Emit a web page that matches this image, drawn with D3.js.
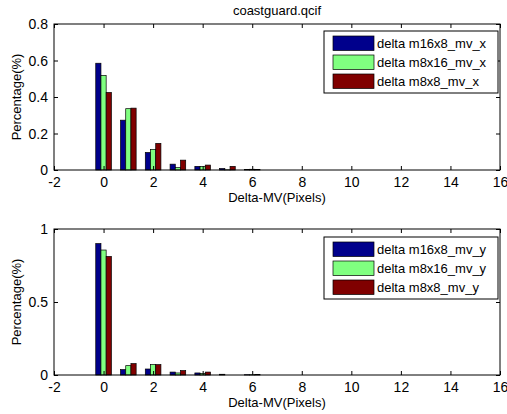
<!DOCTYPE html>
<html><head><meta charset="utf-8">
<script src="https://cdn.jsdelivr.net/npm/d3@7/dist/d3.min.js"></script>
<style>body{margin:0;background:#fff}svg{display:block;font-family:"Liberation Sans",Arial,sans-serif}</style>
</head><body><div id="c"></div>
<script>
const categories = [0, 1, 2, 3, 4, 5, 6];
const seriesNamesX = ["delta m16x8_mv_x", "delta m8x16_mv_x", "delta m8x8_mv_x"];
const seriesNamesY = ["delta m16x8_mv_y", "delta m8x16_mv_y", "delta m8x8_mv_y"];
const xM16x8 = [0.585, 0.273, 0.096, 0.032, 0.020, 0.008, 0.003];
const xM8x16 = [0.518, 0.336, 0.112, 0.013, 0.020, 0.001, 0.004];
const xM8x8  = [0.425, 0.339, 0.146, 0.054, 0.027, 0.020, 0.003];
const yM16x8 = [0.900, 0.037, 0.041, 0.020, 0.014, 0.005, 0.002];
const yM8x16 = [0.856, 0.064, 0.071, 0.014, 0.011, 0.000, 0.002];
const yM8x8  = [0.812, 0.078, 0.071, 0.030, 0.020, 0.000, 0.003];
const xTicks = [-2, 0, 2, 4, 6, 8, 10, 12, 14, 16];
const xTickLabels = ["-2", "0", "2", "4", "6", "8", "10", "12", "14", "16"];
const yTicksTop = [0, 0.2, 0.4, 0.6, 0.8];
const yTickLabelsTop = ["0", "0.2", "0.4", "0.6", "0.8"];
const yTicksBottom = [0, 0.5, 1];
const yTickLabelsBottom = ["0", "0.5", "1"];
const colors = ["#00008c", "#80ff80", "#800000"];
const title = "coastguard.qcif";
const xLabel = "Delta-MV(Pixels)";
const yLabel = "Percentage(%)";

const W = 507, H = 414;
const FONT = '"Liberation Sans",Arial,sans-serif';
const svg = d3.select("#c").append("svg").attr("width", W).attr("height", H);
svg.append("rect").attr("width", W).attr("height", H).attr("fill", "#fff");

function panel(top, bottom, yMax, yTicks, yTickLabels, series, names, legendTop, showTitle) {
  const x = d3.scaleLinear().domain([-2, 16]).range([54, 500]);
  const y = d3.scaleLinear().domain([0, yMax]).range([bottom, top]);
  const g = svg.append("g");
  const bw = 0.21;
  series.forEach((vals, si) => {
    g.selectAll(null).data(categories).enter().append("rect")
      .attr("x", d => x(d + (si - 1) * bw - bw / 2))
      .attr("width", x(bw) - x(0))
      .attr("y", (d, i) => y(vals[i]))
      .attr("height", (d, i) => y(0) - y(vals[i]))
      .attr("fill", colors[si]).attr("stroke", "#000").attr("stroke-width", 0.7);
  });
  g.append("rect").attr("x", 54).attr("y", top).attr("width", 446).attr("height", bottom - top)
    .attr("fill", "none").attr("stroke", "#000").attr("stroke-width", 1);
  const xb = d3.axisBottom(x).tickValues(xTicks).tickSize(-4).tickFormat((d, i) => xTickLabels[i]);
  const xt = d3.axisTop(x).tickValues(xTicks).tickSize(-4).tickFormat("");
  const yl = d3.axisLeft(y).tickValues(yTicks).tickSize(-4).tickFormat((d, i) => yTickLabels[i]);
  const yr = d3.axisRight(y).tickValues(yTicks).tickSize(-4).tickFormat("");
  const ax1 = g.append("g").attr("transform", `translate(0,${bottom})`).call(xb);
  const ax2 = g.append("g").attr("transform", `translate(0,${top})`).call(xt);
  const ax3 = g.append("g").attr("transform", `translate(54,0)`).call(yl);
  const ax4 = g.append("g").attr("transform", `translate(500,0)`).call(yr);
  [ax1, ax2, ax3, ax4].forEach(a => {
    a.select(".domain").remove();
    a.selectAll("line").attr("stroke", "#000");
    a.selectAll("text").attr("fill", "#000").style("font-size", "14px").style("font-family", FONT);
  });
  ax1.selectAll("text").attr("dy", null).attr("y", 17);
  ax3.selectAll("text").attr("x", -6).attr("dy", "0.35em");
  g.append("text").attr("x", 277).attr("y", bottom + 32).attr("text-anchor", "middle")
    .style("font-size", "13px").text(xLabel);
  g.append("text").attr("transform", `translate(21,${(top + bottom) / 2}) rotate(-90)`)
    .attr("text-anchor", "middle").style("font-size", "13px").text(yLabel);
  if (showTitle) {
    g.append("text").attr("x", 277).attr("y", 15).attr("text-anchor", "middle")
      .style("font-size", "13px").text(title);
  }
  const lg = g.append("g");
  lg.append("rect").attr("x", 324).attr("y", legendTop).attr("width", 174).attr("height", 62)
    .attr("fill", "#fff").attr("stroke", "#000").attr("stroke-width", 1);
  names.forEach((n, i) => {
    const ry = legendTop + 5 + i * 19;
    lg.append("rect").attr("x", 333).attr("y", ry).attr("width", 41).attr("height", 14.5)
      .attr("fill", colors[i]).attr("stroke", "#000").attr("stroke-width", 0.7);
    lg.append("text").attr("x", 377).attr("y", ry + 12).style("font-size", "13px").text(n);
  });
}

panel(24, 170, 0.8, yTicksTop, yTickLabelsTop, [xM16x8, xM8x16, xM8x8], seriesNamesX, 31, true);
panel(229, 375, 1, yTicksBottom, yTickLabelsBottom, [yM16x8, yM8x16, yM8x8], seriesNamesY, 237, false);
</script>
</body></html>
